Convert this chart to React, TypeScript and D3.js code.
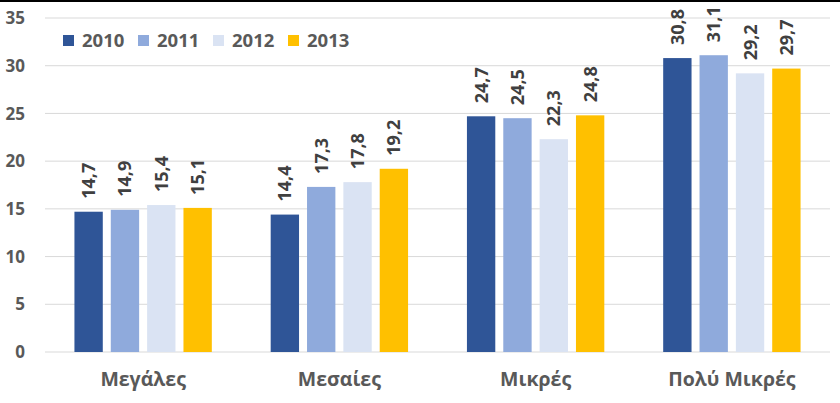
import React from "react";
import * as d3 from "d3";

const categories = ["Μεγάλες", "Μεσαίες", "Μικρές", "Πολύ Μικρές"];
const seriesNames = ["2010", "2011", "2012", "2013"];
const v2010 = [14.7, 14.4, 24.7, 30.8];
const v2011 = [14.9, 17.3, 24.5, 31.1];
const v2012 = [15.4, 17.8, 22.3, 29.2];
const v2013 = [15.1, 19.2, 24.8, 29.7];
const yTicks = [0, 5, 10, 15, 20, 25, 30, 35];
const colors = ["#2F5597", "#8FAADC", "#DAE3F3", "#FFC000"];

const W = 840, H = 403;
const FONT = "'Open Sans', 'DejaVu Sans', sans-serif";

export default function App() {
  const series = [v2010, v2011, v2012, v2013];
  const x0 = d3.scaleBand<string>().domain(categories).range([45, 830]).paddingInner(0.3).paddingOuter(0.15);
  const x1 = d3.scaleBand<string>().domain(seriesNames).range([0, x0.bandwidth()]).paddingInner(0.22).paddingOuter(0);
  const y = d3.scaleLinear().domain([0, 35]).range([352, 18]);
  const fmt = (v: number) => v.toFixed(1).replace(".", ",");

  return (
    <div style={{ position: "fixed", left: 0, top: 0 }}>
      <svg width={W} height={H} style={{ display: "block", background: "#fff" }}>
        <rect x={0} y={0} width={W} height={2} fill="#000" />
        {yTicks.map((t) => (
          <g key={t}>
            <line x1={45} x2={830} y1={y(t)} y2={y(t)} stroke="#D9D9D9" strokeWidth={1} />
            <text x={25} y={y(t)} dy="0.36em" textAnchor="end" fontFamily={FONT} fontWeight="bold" fontSize={17} fill="#595959">{t}</text>
          </g>
        ))}
        {categories.map((c, ci) => (
          <g key={c} transform={`translate(${x0(c)},0)`}>
            {series.map((s, si) => {
              const bx = x1(seriesNames[si])!;
              const v = s[ci];
              return (
                <g key={si}>
                  <rect x={bx} y={y(v)} width={x1.bandwidth()} height={y(0) - y(v)} fill={colors[si]} />
                  <text transform={`translate(${bx + x1.bandwidth() / 2},${y(v) - 13}) rotate(-90)`} dy="0.36em" textAnchor="start" fontFamily={FONT} fontWeight="bold" fontSize={18} fill="#404040">{fmt(v)}</text>
                </g>
              );
            })}
            <text x={x0.bandwidth() / 2} y={386} textAnchor="middle" fontFamily={FONT} fontWeight="bold" fontSize={19.5} fill="#595959">{c}</text>
          </g>
        ))}
        {seriesNames.map((n, i) => (
          <g key={n} transform={`translate(${63 + i * 75},0)`}>
            <rect x={0} y={35} width={11} height={11} fill={colors[i]} />
            <text x={19} y={40.5} dy="0.36em" fontFamily={FONT} fontWeight="bold" fontSize={18.5} fill="#595959">{n}</text>
          </g>
        ))}
      </svg>
    </div>
  );
}
